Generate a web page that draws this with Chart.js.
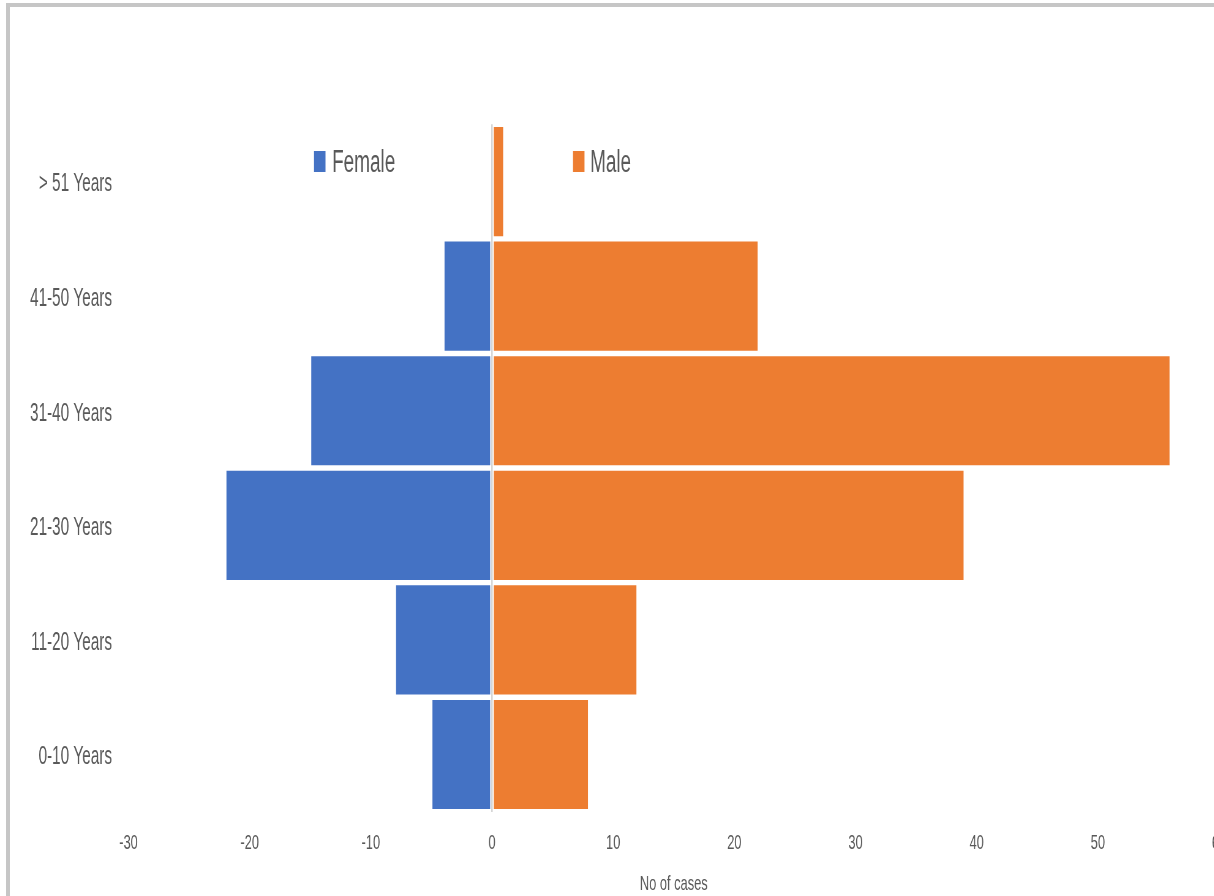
<!DOCTYPE html>
<html>
<head>
<meta charset="utf-8">
<title>Cases by age group and sex</title>
<script src="https://cdn.jsdelivr.net/npm/chart.js@4.4.1/dist/chart.umd.min.js"></script>
<style>
  html, body { margin: 0; padding: 0; width: 1214px; height: 896px; overflow: hidden; background: #fff; }
  #frame { position: absolute; left: 6px; top: 3px; width: 1400px; height: 1000px;
           border-left: 4px solid #c6c6c6; border-top: 4px solid #c6c6c6; }
  #wrap { position: absolute; left: 0; top: 0; transform-origin: 0 0; }
  canvas { display: block; }
</style>
</head>
<body>
<div id="frame"></div>
<div id="wrap"><canvas id="c"></canvas></div>
<script>
// ---- data ----
const ageGroups   = ['> 51 Years', '41-50 Years', '31-40 Years', '21-30 Years', '11-20 Years', '0-10 Years'];
const femaleCases = [0, -4, -15, -22, -8, -5];   // plotted to the left of zero
const maleCases   = [1, 22, 56, 39, 12, 8];
const seriesNames = ['Female', 'Male'];
const seriesColors = ['#4472C4', '#ED7D31'];
const axisTitle = 'No of cases';
const xMin = -30, xMax = 60, xStep = 10;

// ---- condensed text: draw on a wider canvas, then compress it horizontally ----
const FONT = '"Liberation Sans Narrow", "Liberation Sans", Arial, sans-serif';
const probe = document.createElement('canvas').getContext('2d');
probe.font = '25px ' + FONT;
const sx = 82 / probe.measureText('31-40 Years').width;

const H = 896;
const W = Math.ceil(1240 / sx);
const px = v => v / sx;           // screen x -> canvas x

const plotLeft = 128.5, plotRight = 1219, plotTop = 124.3, plotBottom = 811.8;
const TEXT = '#595959';

const canvas = document.getElementById('c');
canvas.width = W; canvas.height = H;
canvas.style.width = W + 'px'; canvas.style.height = H + 'px';
document.getElementById('wrap').style.transform = 'scaleX(' + sx + ')';

// legend floating inside the plot, above the top bar row
const floatingLegend = {
  id: 'floatingLegend',
  afterDraw(chart) {
    const ctx = chart.ctx;
    const spots = [{ x: 314, gap: 18 }, { x: 573, gap: 17 }];
    ctx.save();
    ctx.font = '31px ' + FONT;
    ctx.textBaseline = 'alphabetic';
    chart.data.datasets.forEach((ds, i) => {
      const s = spots[i];
      ctx.fillStyle = ds.backgroundColor;
      ctx.fillRect(px(s.x), 151, px(11.5), 21);
      ctx.fillStyle = TEXT;
      ctx.fillText(ds.label, px(s.x + s.gap), 172);
    });
    ctx.restore();
  }
};

const barBorder = { top: 1, bottom: 1, left: px(1), right: px(1) };

new Chart(canvas, {
  type: 'bar',
  data: {
    labels: ageGroups,
    datasets: [
      { label: seriesNames[0], data: femaleCases, backgroundColor: seriesColors[0],
        borderColor: '#ffffff', borderWidth: barBorder, borderSkipped: false,
        barPercentage: 0.97, categoryPercentage: 1 },
      { label: seriesNames[1], data: maleCases, backgroundColor: seriesColors[1],
        borderColor: '#ffffff', borderWidth: barBorder, borderSkipped: false,
        barPercentage: 0.97, categoryPercentage: 1 }
    ]
  },
  options: {
    indexAxis: 'y',
    responsive: false,
    animation: false,
    devicePixelRatio: 1,
    layout: { padding: { top: plotTop, left: 0, right: W - px(plotRight), bottom: 0 } },
    plugins: { legend: { display: false }, tooltip: { enabled: false } },
    scales: {
      x: {
        type: 'linear', min: xMin, max: xMax, stacked: true, z: 1,
        ticks: { stepSize: xStep, color: TEXT, font: { family: FONT, size: 21 }, padding: 19 },
        grid: {
          drawTicks: false,
          color: c => (c.tick && c.tick.value === 0) ? '#d6d6d6' : 'rgba(0,0,0,0)',
          lineWidth: px(1.6)
        },
        border: { display: false },
        title: { display: true, text: axisTitle, color: TEXT,
                 font: { family: FONT, size: 21, lineHeight: 1 }, padding: { top: 0, bottom: 1 } },
        afterFit: s => { s.height = H - plotBottom; }
      },
      y: {
        type: 'category', stacked: true,
        ticks: { color: TEXT, font: { family: FONT, size: 25 }, padding: px(plotLeft - 112), labelOffset: 3 },
        grid: { display: false, drawTicks: false },
        border: { display: false },
        afterFit: s => { s.width = px(plotLeft); }
      }
    }
  },
  plugins: [floatingLegend]
});
</script>
</body>
</html>
